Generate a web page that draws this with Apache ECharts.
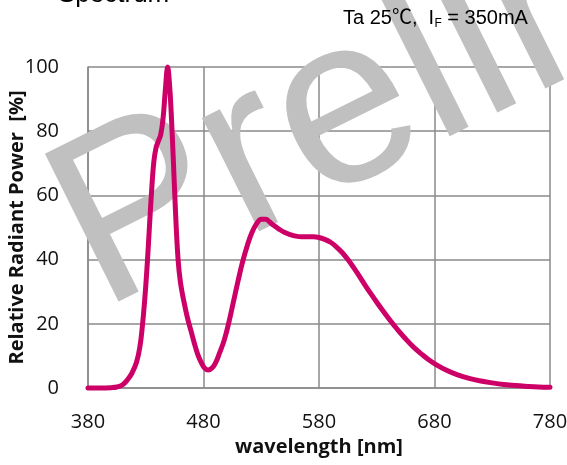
<!DOCTYPE html>
<html>
<head>
<meta charset="utf-8">
<script src="https://cdn.jsdelivr.net/npm/echarts@6/dist/echarts.min.js"></script>
<style>
html,body{margin:0;padding:0;background:#fff;}
#c{width:567px;height:465px;}
</style>
</head>
<body>
<div id="c"></div>
<script>
// ---- data ----
const wavelength = [380,390,400,405,410,414,418,422,425,427,429,431,433,435,437,439,441,443,445,447,449,450.5,452,454,456,458,460,463,466,469,472,475,478,481,484,487,490,494,498,502,506,510,514,518,522,526,530,534,537,541,545,550,555,560,565,570,575,580,585,590,595,600,605,610,615,620,625,630,635,640,645,650,655,660,665,670,675,680,690,700,710,720,730,740,750,760,770,780];
const relPower   = [0,0,0.1,0.3,1.0,2.5,4.6,8,13,19,27,37,49,61,70.5,75,77,79,84,93,100,95,86,70,53,40,33,27,22,18,14,10.5,8,6.2,5.6,6.1,7.5,11,15,20.5,27,33.5,39.5,44.5,48.5,51.2,52.6,52.6,51.8,50.6,49.6,48.5,47.8,47.3,47.1,47.1,47.1,46.9,46.3,45.4,44,42.2,40,37.5,34.8,32,29.3,26.7,24.2,21.8,19.5,17.3,15.3,13.4,11.7,10.2,8.8,7.6,5.6,4.1,3,2.2,1.6,1.1,0.75,0.5,0.3,0.2];
const xTicks = [380,480,580,680,780];
const yTicks = [0,20,40,60,80,100];
const chartTitle = 'Spectrum';
const condMain = 'Ta 25\u2103,  I';
const condSub = 'F';
const condTail = '= 350mA';
const xName = 'wavelength [nm]';
const yName = 'Relative Radiant Power  [%]';
const watermark = 'Preliminary';

const GRID = '#8a8a8a';
const LABEL_FONT = "'Open Sans', 'Noto Sans', sans-serif";
const ARIAL = "'Liberation Sans', Arial, 'Noto Sans CJK SC', sans-serif";

const chart = echarts.init(document.getElementById('c'), null, {renderer:'canvas'});
const theta = 26.5 * Math.PI / 180;

chart.setOption({
  animation: false,
  backgroundColor: '#fff',
  grid: {left: 88, right: 17, top: 67, bottom: 77, containLabel: false, outerBoundsMode: 'none'},
  xAxis: {
    type: 'value',
    min: xTicks[0], max: xTicks[xTicks.length-1], interval: xTicks[1]-xTicks[0],
    axisLine: {show: true, onZero: false, lineStyle: {color: GRID, width: 1.5}},
    axisTick: {show: false},
    splitLine: {show: true, lineStyle: {color: GRID, width: 1.5}},
    axisLabel: {fontSize: 20, color: '#111', fontFamily: LABEL_FONT, margin: 24},
    name: xName, nameLocation: 'middle', nameGap: 49,
    nameTextStyle: {fontSize: 20, fontWeight: 'bold', color: '#111', fontFamily: LABEL_FONT}
  },
  yAxis: {
    type: 'value',
    min: yTicks[0], max: yTicks[yTicks.length-1], interval: yTicks[1]-yTicks[0],
    axisLine: {show: true, lineStyle: {color: GRID, width: 1.5}},
    axisTick: {show: false},
    splitLine: {show: true, lineStyle: {color: GRID, width: 1.5}},
    axisLabel: {fontSize: 20, color: '#111', fontFamily: LABEL_FONT, margin: 29},
    name: yName, nameLocation: 'middle', nameGap: 61, nameMoveOverlap: false,
    nameTextStyle: {fontSize: 20, fontWeight: 'bold', color: '#111', fontFamily: LABEL_FONT}
  },
  graphic: [
    {type: 'text', z: 1, x: 71.4, y: 251, rotation: theta, silent: true,
     style: {text: watermark, font: '240px ' + ARIAL, fill: '#c0c0c0',
             align: 'left', verticalAlign: 'middle', textAlign: 'left', textVerticalAlign: 'middle'}},
    {type: 'text', z: 5, x: 58, y: -5, silent: true,
     style: {text: chartTitle, font: '26px ' + ARIAL, fill: '#000',
             align: 'left', verticalAlign: 'middle', textAlign: 'left', textVerticalAlign: 'middle'}},
    {type: 'text', z: 5, x: 343, y: 18.1, silent: true,
     style: {text: condMain, font: '20px ' + ARIAL, fill: '#000',
             align: 'left', verticalAlign: 'middle', textAlign: 'left', textVerticalAlign: 'middle'}},
    {type: 'text', z: 5, x: 434.4, y: 23.3, silent: true,
     style: {text: condSub, font: '12px ' + ARIAL, fill: '#000',
             align: 'left', verticalAlign: 'middle', textAlign: 'left', textVerticalAlign: 'middle'}},
    {type: 'text', z: 5, x: 447.3, y: 18.1, silent: true,
     style: {text: condTail, font: '20px ' + ARIAL, fill: '#000',
             align: 'left', verticalAlign: 'middle', textAlign: 'left', textVerticalAlign: 'middle'}}
  ],
  series: [{
    type: 'line',
    data: wavelength.map((w, i) => [w, relPower[i]]),
    showSymbol: false,
    smooth: 0.4,
    clip: false,
    z: 3,
    lineStyle: {color: '#cc0066', width: 5, join: 'round', cap: 'round'}
  }]
});
</script>
</body>
</html>
